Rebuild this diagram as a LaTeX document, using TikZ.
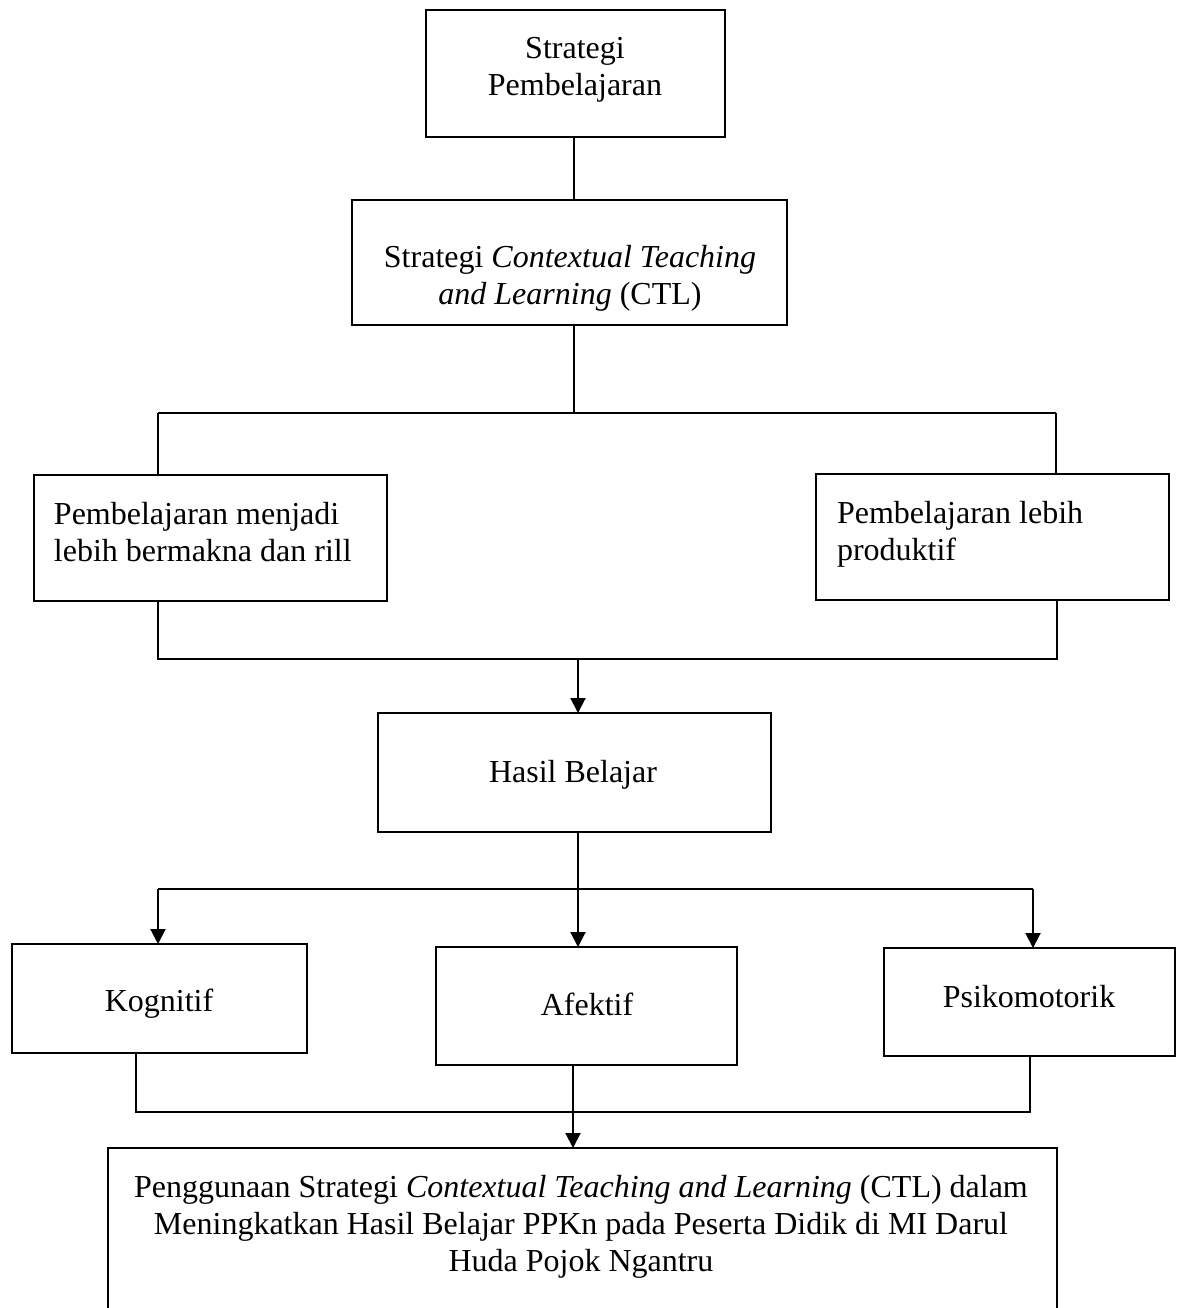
\documentclass[tikz,border=0pt]{standalone}
\usepackage{fontspec}
\setmainfont{Liberation Serif}
\usetikzlibrary{arrows.meta}
\newcommand\mylinesc[1]{\vtop{\halign{\hfil##\hfil\cr#1\crcr}}}
\newcommand\mylinesl[1]{\vtop{\halign{##\hfil\cr#1\crcr}}}
\begin{document}
\begin{tikzpicture}[x=0.5pt,y=-0.5pt,
  font=\fontsize{16}{18.6}\selectfont,
  box/.style={draw,line width=1pt,rectangle,inner sep=0pt,outer sep=0pt},
  txt/.style={inner sep=0pt,outer sep=0pt,anchor=base},
  txtl/.style={inner sep=0pt,outer sep=0pt,anchor=base west},
  conn/.style={line width=1pt},
  arr/.style={conn,-{Triangle[width=7.5pt,length=7.5pt]}}]
\clip (0,0) rectangle (1178,1308);
\fill[white] (0,0) rectangle (1178,1308);
% boxes
\node[box,minimum width=149.5pt,minimum height=63.5pt] (b1) at (575.5,73.5) {};
\node[box,minimum width=217.5pt,minimum height=62.5pt] (b2) at (569.5,262.5) {};
\node[box,minimum width=176.5pt,minimum height=63pt] (b3) at (210.5,538) {};
\node[box,minimum width=176.5pt,minimum height=63pt] (b4) at (992.5,537) {};
\node[box,minimum width=196.5pt,minimum height=59.5pt] (b5) at (574.5,772.5) {};
\node[box,minimum width=147.5pt,minimum height=54.5pt] (b6) at (159.5,998.5) {};
\node[box,minimum width=150.5pt,minimum height=59pt] (b7) at (586.5,1006) {};
\node[box,minimum width=145.5pt,minimum height=54pt] (b8) at (1029.5,1002) {};
\node[box,minimum width=474.5pt,minimum height=96pt] (b9) at (582.5,1244) {};
% texts
\node[txt] (t1) at (575,58) {\mylinesc{Strategi\cr Pembelajaran}};
\node[txt] (t2) at (570,267) {\mylinesc{Strategi \textit{Contextual Teaching}\cr \textit{and Learning} (CTL)}};
\node[txtl] (t3) at (54,524) {\mylinesl{Pembelajaran menjadi\cr lebih bermakna dan rill}};
\node[txtl] (t4) at (837,523) {\mylinesl{Pembelajaran lebih\cr produktif}};
\node[txt] (t5) at (573,782) {Hasil Belajar};
\node[txt] (t6) at (159,1011) {Kognitif};
\node[txt] (t7) at (587,1015) {Afektif};
\node[txt] (t8) at (1029,1007) {Psikomotorik};
\node[txt] (t9) at (581,1197) {\mylinesc{Penggunaan Strategi \textit{Contextual Teaching and Learning} (CTL) dalam\cr Meningkatkan Hasil Belajar PPKn pada Peserta Didik di MI Darul\cr Huda Pojok Ngantru}};
% junctions
\coordinate (j1) at (574,413);
\coordinate (j1l) at (158,413);
\coordinate (j1r) at (1056,413);
\coordinate (j2) at (578,659);
\coordinate (j2l) at (158,659);
\coordinate (j2r) at (1057,659);
\coordinate (j3) at (578,889);
\coordinate (j3l) at (158,889);
\coordinate (j3r) at (1033,889);
\coordinate (j4) at (573,1112);
\coordinate (j4l) at (136,1112);
\coordinate (j4r) at (1030,1112);
% connectors
\draw[conn] (j1 |- b1.south) -- (j1 |- b2.north);
\draw[conn] (j1 |- b2.south) -- (j1);
\draw[conn] (j1l) -- (j1r);
\draw[conn] (j1l) -- (j1l |- b3.north);
\draw[conn] (j1r) -- (j1r |- b4.north);
\draw[conn] (j2l |- b3.south) -- (j2l) -- (j2r) -- (j2r |- b4.south);
\draw[arr] (j2) -- (j2 |- b5.north);
\draw[conn] (j3 |- b5.south) -- (j3);
\draw[conn] (j3l) -- (j3r);
\draw[arr] (j3l) -- (j3l |- b6.north);
\draw[arr] (j3) -- (j3 |- b7.north);
\draw[arr] (j3r) -- (j3r |- b8.north);
\draw[conn] (j4l |- b6.south) -- (j4l) -- (j4r) -- (j4r |- b8.south);
\draw[arr] (j4 |- b7.south) -- (j4 |- b9.north);
\end{tikzpicture}
\end{document}
